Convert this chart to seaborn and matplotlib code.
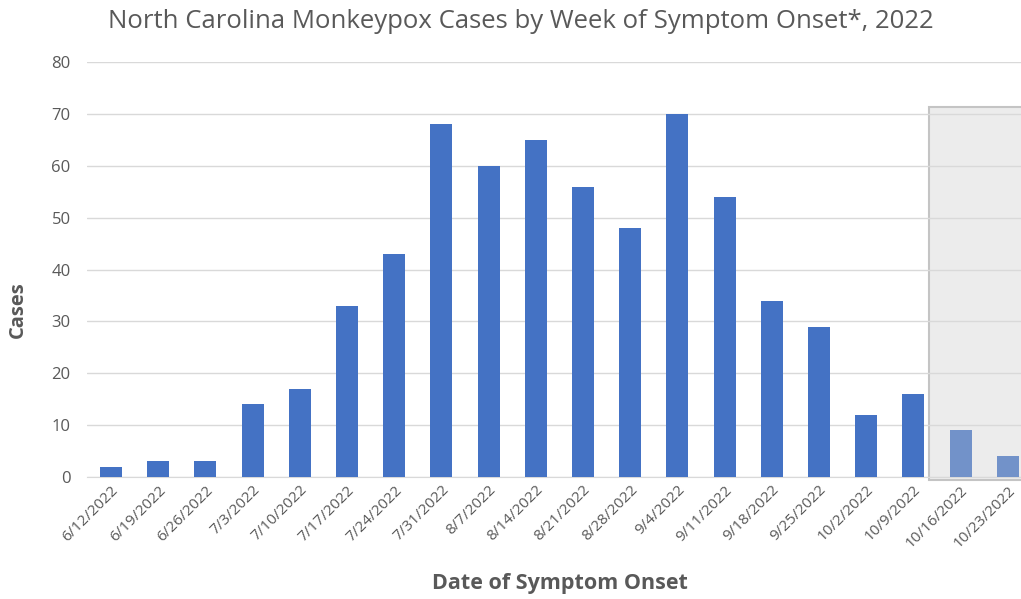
import numpy as np
import pandas as pd
import seaborn as sns
import matplotlib.pyplot as plt
from matplotlib.patches import Rectangle

# weekly cases
weeks = ["6/12/2022", "6/19/2022", "6/26/2022", "7/3/2022", "7/10/2022",
         "7/17/2022", "7/24/2022", "7/31/2022", "8/7/2022", "8/14/2022",
         "8/21/2022", "8/28/2022", "9/4/2022", "9/11/2022", "9/18/2022",
         "9/25/2022", "10/2/2022", "10/9/2022", "10/16/2022", "10/23/2022"]
cases = [2, 3, 3, 14, 17, 33, 43, 68, 60, 65, 56, 48, 70, 54, 34, 29, 12, 16, 9, 4]
# last weeks are incomplete (shaded)
incomplete = [False] * 18 + [True, True]

df = pd.DataFrame({"week": weeks, "cases": cases, "incomplete": incomplete})

sns.set_style("white")
plt.rcParams["font.family"] = ["Open Sans", "DejaVu Sans"]

fig = plt.figure(figsize=(10.21, 5.99), dpi=100)
ax = fig.add_axes([87.4 / 1021, 1 - 477 / 599, 944 / 1021, 415 / 599])

palette = ["#4472c4" if not f else "#7292c9" for f in df["incomplete"]]
sns.barplot(data=df, x="week", y="cases", hue="week", palette=palette,
            legend=False, width=0.47, saturation=1, linewidth=0,
            ax=ax, zorder=3)

# shaded box over incomplete weeks (grid stays visible on top of it)
ax.add_patch(Rectangle((17.33, -0.6), 3.0, 71.9, facecolor="#ececec",
                       edgecolor="#c4c4c4", lw=1.5, zorder=0.2, clip_on=False))

ax.set_xlim(-0.5, 19.5)
ax.set_ylim(0, 80)
ax.set_yticks(np.arange(0, 81, 10))
ax.yaxis.grid(True, color="#d9d9d9", lw=1)
ax.set_axisbelow(True)
for s in ["top", "right", "left"]:
    ax.spines[s].set_visible(False)
ax.spines["bottom"].set_color("#d9d9d9")

ax.tick_params(axis="y", length=0, labelsize=12, labelcolor="#595959", pad=12)
ax.tick_params(axis="x", length=0, labelsize=11, labelcolor="#595959", pad=4)
plt.setp(ax.get_xticklabels(), rotation=45, ha="right", rotation_mode="anchor")

ax.set_xlabel("Date of Symptom Onset", fontsize=15.5, fontweight="bold",
              color="#595959")
ax.xaxis.set_label_coords((560 - 87.4) / 944, -(573 - 477) / 415)
ax.set_ylabel("Cases", fontsize=14.5, fontweight="bold", color="#595959")
ax.yaxis.set_label_coords(-(87.4 - 28) / 944, (477 - 310) / 415)

fig.text(521 / 1021, 1 - 22 / 599,
         "North Carolina Monkeypox Cases by Week of Symptom Onset*, 2022",
         ha="center", va="center", fontsize=18.5, color="#595959")

fig.savefig("out.png", dpi=100)
